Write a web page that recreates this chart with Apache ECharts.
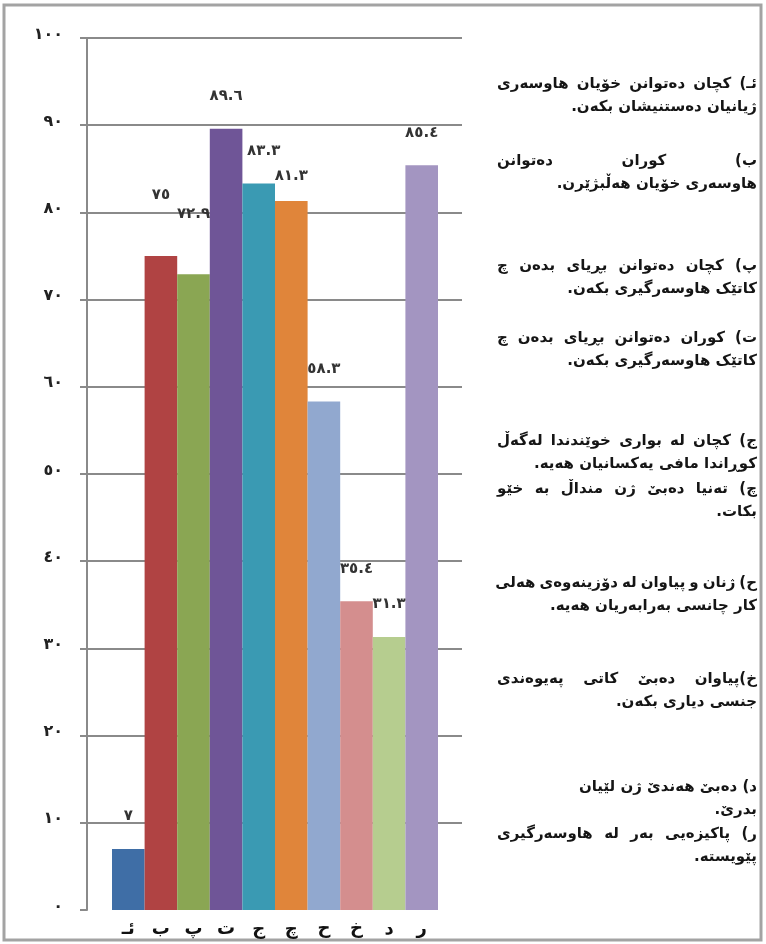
<!DOCTYPE html>
<html><head><meta charset="utf-8">
<script src="https://cdn.jsdelivr.net/npm/echarts@6/dist/echarts.min.js"></script>
<style>html,body{margin:0;padding:0;background:#fff}#c{width:766px;height:944px}</style>
</head><body><div id="c"></div>
<script>
// ---- data ----
const categories = ['ئـ','ب','پ','ت','ج','چ','ح','خ','د','ر'];
const values = [7, 75, 72.9, 89.6, 83.3, 81.3, 58.3, 35.4, 31.3, 85.4];
const yTickLabels = ['٠','١٠','٢٠','٣٠','٤٠','٥٠','٦٠','٧٠','٨٠','٩٠','١٠٠'];
const noteLines = [
  'ئـ) کچان دەتوانن خۆیان هاوسەری',
  'ژیانیان دەستنیشان بکەن.',
  'ب) کوران دەتوانن',
  'هاوسەری خۆیان هەڵبژێرن.',
  'پ) کچان دەتوانن بڕیای بدەن چ',
  'کاتێک هاوسەرگیری بکەن.',
  'ت) کوران دەتوانن بڕیای بدەن چ',
  'کاتێک هاوسەرگیری بکەن.',
  'ج) کچان لە بواری خوێندندا لەگەڵ',
  'کوڕاندا مافی یەکسانیان هەیە.',
  'چ) تەنیا دەبێ ژن منداڵ بە خێو',
  'بکات.',
  'ح) ژنان و پیاوان لە دۆزینەوەی هەلی',
  'کار چانسی بەرابەریان هەیە.',
  'خ)پیاوان دەبێ کاتی پەیوەندی',
  'جنسی دیاری بکەن.',
  'د) دەبێ هەندێ ژن لێیان',
  'بدرێ.',
  'ر) پاکیزەیی بەر لە هاوسەرگیری',
  'پێویستە.'
];

// ---- layout / style ----
const palette = ['#3F6EA6','#B04343','#8AA653','#6F5597','#3A9AB3','#E0853A','#91A8CF','#D48E8E','#B6CD8F','#A395C1'];
const labelDist = {1: 53, 2: 53, 5: 17};
const labelOff = {4: [5, 0]};
const lineY = [84,107,161,184,266,289,338,361,441,464,489,512,583,606,679,702,787,810,834,857];
const justifyLine = [1,0,1,0,1,0,1,0,1,0,1,0,1,0,1,0,0,0,1,0];
const colL = 497, colR = 757;
const FS = 15;
const TF = {fontFamily:'DejaVu Sans', fontWeight:'bold', fontSize:FS};
const RLM = '\u200F';

const toAr = s => String(s).replace(/\d/g, d => '٠١٢٣٤٥٦٧٨٩'[+d]);

const mctx = document.createElement('canvas').getContext('2d');
mctx.font = 'bold ' + FS + 'px "DejaVu Sans"';

const graphics = [{
  type:'rect', shape:{x:4, y:5, width:757, height:935},
  style:{fill:'none', stroke:'#a3a3a3', lineWidth:3}, silent:true
}];
function textEl(x, y, t) {
  return {type:'text', x:x, y:y, silent:true,
    style:Object.assign({text:RLM + t + RLM, fill:'#151515', textAlign:'right', align:'right',
      textVerticalAlign:'middle', verticalAlign:'middle'}, TF)};
}
noteLines.forEach((t, i) => {
  const y = lineY[i];
  if (justifyLine[i]) {
    const words = t.split(' ');
    const ws = words.map(w => mctx.measureText(RLM + w + RLM).width);
    const sum = ws.reduce((a,b)=>a+b,0);
    const gap = words.length > 1 ? Math.max(4, (colR - colL - sum) / (words.length - 1)) : 0;
    let x = colR;
    words.forEach((w, k) => { graphics.push(textEl(x, y, w)); x -= ws[k] + gap; });
  } else {
    graphics.push(textEl(colR, y, t));
  }
});

const gridTop = 38, gridBottom = 34;
const option = {
  backgroundColor:'#fff',
  animation:false,
  grid:[
    {left:87, right:766-462, top:gridTop, bottom:gridBottom},
    {left:112, right:766-438, top:gridTop, bottom:gridBottom}
  ],
  xAxis:[
    {type:'value', gridIndex:0, show:false, min:0, max:1},
    {type:'category', gridIndex:1, data:categories,
      axisLine:{show:false}, axisTick:{show:false},
      axisLabel:{interval:0, margin:10, color:'#111', fontFamily:'DejaVu Sans', fontWeight:'bold', fontSize:18}}
  ],
  yAxis:[
    {type:'value', gridIndex:0, min:0, max:100, interval:10,
      axisLine:{show:true, lineStyle:{color:'#8a8a8a', width:2}},
      axisTick:{show:true, length:7, lineStyle:{color:'#8a8a8a', width:2}},
      splitLine:{show:true, showMinLine:false, lineStyle:{color:'#8a8a8a', width:2}},
      axisLabel:{margin:24, color:'#222', fontFamily:'DejaVu Sans', fontWeight:'bold', fontSize:16,
        verticalAlign:'bottom', lineHeight:7, formatter:v => yTickLabels[Math.round(v/10)]}},
    {type:'value', gridIndex:1, min:0, max:100, interval:10, show:false, splitLine:{show:false}}
  ],
  series:[{
    type:'bar', xAxisIndex:1, yAxisIndex:1, barCategoryGap:'0%',
    data: values.map((v,i) => {
      const d = {value:v, itemStyle:{color:palette[i]}};
      const lb = {};
      if (labelDist[i] != null) lb.distance = labelDist[i];
      if (labelOff[i]) lb.offset = labelOff[i];
      if (Object.keys(lb).length) d.label = lb;
      return d;
    }),
    label:{show:true, position:'top', distance:25, color:'#333', fontFamily:'DejaVu Sans',
      fontWeight:'bold', fontSize:15, formatter:p => toAr(p.value)}
  }],
  graphic: graphics
};
const chart = echarts.init(document.getElementById('c'), null, {renderer:'canvas'});
chart.setOption(option);
</script></body></html>
